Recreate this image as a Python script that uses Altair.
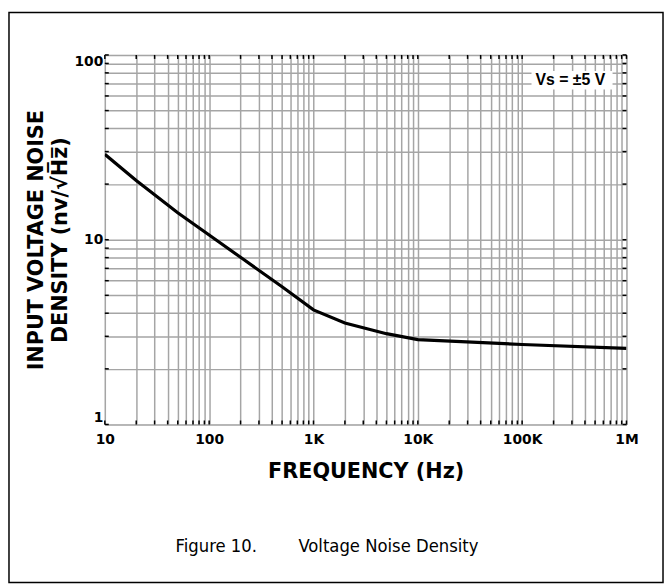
import altair as alt
import pandas as pd

# Data
freq_hz = [10, 20, 50, 100, 200, 500, 1000, 2000, 5000, 10000, 100000, 1000000]
noise_nv = [29.0, 20.9, 14.0, 10.6, 8.03, 5.56, 4.17, 3.54, 3.10, 2.88, 2.71, 2.58]

x_grid = [m * 10 ** e for e in range(1, 6) for m in range(1, 10)] + [1000000]
y_grid = [m * 10 ** e for e in range(0, 2) for m in range(1, 10)] + [100]
x_tick_labels = {10: "10", 100: "100", 1000: "1K", 10000: "10K", 100000: "100K", 1000000: "1M"}
y_tick_labels = {1: "1", 10: "10", 100: "100"}

annotation_text = "Vs = ±5 V"
caption_fig = "Figure 10."
caption_title = "Voltage Noise Density"

W, H = 528, 374
PAD = {"left": 98, "top": 44, "right": 38, "bottom": 161}
BOLD = "DejaVu Sans"

df = pd.DataFrame({"f": freq_hz, "n": noise_nv})
xg = pd.DataFrame({"v": x_grid})
yg = pd.DataFrame({"v": y_grid})

x_label_expr = " : ".join(
    [f"datum.value == {k} ? '{v}'" for k, v in x_tick_labels.items()]
) + " : ''"
y_label_expr = " : ".join(
    [f"datum.value == {k} ? '{v}'" for k, v in y_tick_labels.items()]
) + " : ''"

x_scale = alt.Scale(type="log", domain=[10, 1000000], nice=False)
y_scale = alt.Scale(type="log", domain=[1, 100], nice=False)

x_axis = alt.Axis(
    values=x_grid, labelExpr=x_label_expr, grid=True, gridColor="#a5a5a5",
    gridWidth=1.5, gridOpacity=1, ticks=False, domain=False,
    labelFont=BOLD, labelFontWeight="bold", labelFontSize=14, labelColor="black",
    labelPadding=8, labelFlush=False, labelOverlap=False,
    title="FREQUENCY (Hz)", titleFont=BOLD, titleFontWeight="bold",
    titleFontSize=21, titleColor="black", titlePadding=15,
)
y_axis = alt.Axis(
    values=y_grid, labelExpr=y_label_expr, grid=True, gridColor="#a5a5a5",
    gridWidth=1.5, gridOpacity=1, ticks=False, domain=False,
    labelFont=BOLD, labelFontWeight="bold", labelFontSize=14, labelColor="black",
    labelPadding=2, labelFlush=True, labelOverlap=False,
    title=["INPUT VOLTAGE NOISE", "DENSITY (nv/√H̅z̅)"], titleFont=BOLD,
    titleFontWeight="bold", titleFontSize=21, titleColor="black",
    titlePadding=4, titleLineHeight=24,
)

line = alt.Chart(df).mark_line(color="black", strokeWidth=3.2, clip=True).encode(
    x=alt.X("f:Q", scale=x_scale, axis=x_axis),
    y=alt.Y("n:Q", scale=y_scale, axis=y_axis),
)

# small inward ticks along the frame
tick_style = dict(color="black", strokeWidth=1.5)
ticks_bottom = alt.Chart(xg).mark_rule(**tick_style).encode(
    x=alt.X("v:Q", scale=x_scale), y=alt.value(H - 4), y2=alt.value(H))
ticks_top = alt.Chart(xg).mark_rule(**tick_style).encode(
    x=alt.X("v:Q", scale=x_scale), y=alt.value(0), y2=alt.value(4))
ticks_left = alt.Chart(yg).mark_rule(**tick_style).encode(
    y=alt.Y("v:Q", scale=y_scale), x=alt.value(0), x2=alt.value(4))
ticks_right = alt.Chart(yg).mark_rule(**tick_style).encode(
    y=alt.Y("v:Q", scale=y_scale), x=alt.value(W - 4), x2=alt.value(W))

box_df = pd.DataFrame({"x1": [123000], "x2": [736000], "y1": [65], "y2": [82],
                       "xt": [290000], "yt": [73.5], "t": [annotation_text]})
box = alt.Chart(box_df).mark_rect(color="white").encode(
    x=alt.X("x1:Q", scale=x_scale), x2="x2:Q",
    y=alt.Y("y1:Q", scale=y_scale), y2="y2:Q",
)
label = alt.Chart(box_df).mark_text(
    font="Liberation Sans", fontWeight="bold", fontSize=16, color="black",
    align="center", baseline="middle",
).encode(
    x=alt.X("xt:Q", scale=x_scale), y=alt.Y("yt:Q", scale=y_scale), text="t:N"
)

cap_df = pd.DataFrame({"a": [caption_fig], "b": [caption_title]})
CAP_FONT = "DejaVu Sans Condensed, Roboto Condensed, Liberation Sans Narrow, Roboto"
caption_a = alt.Chart(cap_df).mark_text(
    font=CAP_FONT, fontSize=18.5, color="black", align="right", baseline="middle",
).encode(x=alt.value(154), y=alt.value(497), text="a:N")
caption_b = alt.Chart(cap_df).mark_text(
    font=CAP_FONT, fontSize=18.5, color="black", align="left", baseline="middle",
).encode(x=alt.value(196), y=alt.value(497), text="b:N")

frame = alt.Chart(cap_df).mark_rect(
    fill=None, stroke="black", strokeWidth=1.5
).encode(
    x=alt.value(-97), x2=alt.value(565), y=alt.value(-43), y2=alt.value(534)
)

chart = alt.layer(
    line, ticks_bottom, ticks_top, ticks_left, ticks_right,
    box, label, caption_a, caption_b, frame,
).properties(
    width=W, height=H,
    autosize=alt.AutoSizeParams(type="none"),
    padding=PAD,
).configure_view(stroke="black", strokeWidth=2.5).configure(background="white")

chart.save("out.html", embed_options={"renderer": "svg", "actions": False})
